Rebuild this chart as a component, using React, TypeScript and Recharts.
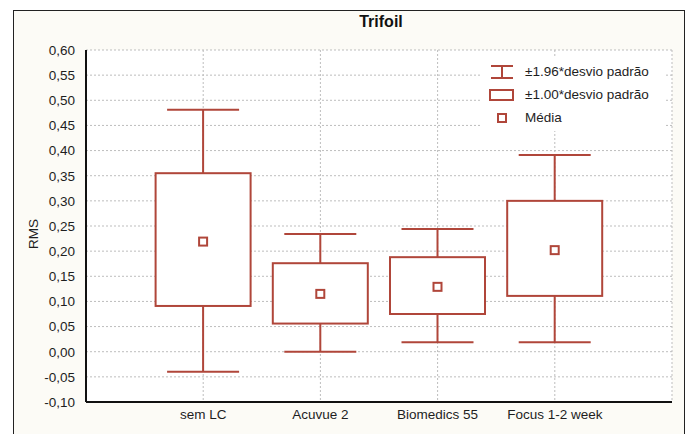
import { Bar, BarChart, CartesianGrid, Legend, XAxis, YAxis } from "recharts";

const lenses = ["sem LC", "Acuvue 2", "Biomedics 55", "Focus 1-2 week"];
const means = [0.219, 0.115, 0.129, 0.202];
const boxLow = [0.091, 0.056, 0.075, 0.111];
const boxHigh = [0.355, 0.176, 0.188, 0.3];
const whiskerLow = [-0.04, 0.0, 0.019, 0.019];
const whiskerHigh = [0.481, 0.234, 0.244, 0.391];
const yTicks = [-0.1, -0.05, 0, 0.05, 0.1, 0.15, 0.2, 0.25, 0.3, 0.35, 0.4, 0.45, 0.5, 0.55, 0.6];
const minorTicks = Array.from({ length: 71 }, (_, i) => Math.round((-0.1 + i * 0.01) * 100) / 100);

const RED = "#b0463a";
const FONT = "'Liberation Sans', Arial, Helvetica, sans-serif";
const TEXT = "#1e1e1e";

const rows = lenses.map((name, i) => ({
  name,
  range: [whiskerLow[i], whiskerHigh[i]],
  lo: whiskerLow[i],
  hi: whiskerHigh[i],
  q1: boxLow[i],
  q3: boxHigh[i],
  mean: means[i],
}));

const fmt = (v: number) => v.toFixed(2).replace(".", ",");

function BoxShape(props: any) {
  const { x, y, width, height, payload } = props;
  const top = Math.min(y, y + height);
  const h = Math.abs(height);
  const ppu = h / (payload.hi - payload.lo);
  const pix = (v: number) => top + (payload.hi - v) * ppu;
  const cx = x + width / 2;
  const cap = 36;
  return (
    <g>
      <line x1={cx} x2={cx} y1={pix(payload.hi)} y2={pix(payload.lo)} stroke={RED} strokeWidth={2} />
      <line x1={cx - cap} x2={cx + cap} y1={pix(payload.hi)} y2={pix(payload.hi)} stroke={RED} strokeWidth={2} />
      <line x1={cx - cap} x2={cx + cap} y1={pix(payload.lo)} y2={pix(payload.lo)} stroke={RED} strokeWidth={2} />
      <rect
        x={x}
        y={pix(payload.q3)}
        width={width}
        height={pix(payload.q1) - pix(payload.q3)}
        fill="#fff"
        stroke={RED}
        strokeWidth={2}
      />
      <rect x={cx - 4} y={pix(payload.mean) - 4} width={8} height={8} fill="#fff" stroke={RED} strokeWidth={2} />
    </g>
  );
}

function BoxLegend() {
  const items = [
    { label: "±1.96*desvio padrão", icon: "whisker" },
    { label: "±1.00*desvio padrão", icon: "box" },
    { label: "Média", icon: "mean" },
  ];
  return (
    <div style={{ background: "#fff", padding: "2px 4px", fontFamily: FONT, fontSize: 13.5, color: TEXT }}>
      {items.map((it) => (
        <div key={it.label} style={{ display: "flex", alignItems: "center", height: 23 }}>
          <svg width={30} height={16} style={{ marginRight: 9 }}>
            {it.icon === "whisker" && (
              <g stroke={RED} strokeWidth={2}>
                <line x1={5} x2={27} y1={2} y2={2} />
                <line x1={5} x2={27} y1={14} y2={14} />
                <line x1={16} x2={16} y1={2} y2={14} />
              </g>
            )}
            {it.icon === "box" && <rect x={4} y={3} width={23} height={10} fill="#fff" stroke={RED} strokeWidth={2} />}
            {it.icon === "mean" && <rect x={12} y={4} width={8} height={8} fill="#fff" stroke={RED} strokeWidth={2} />}
          </svg>
          <span>{it.label}</span>
        </div>
      ))}
    </div>
  );
}

export default function App() {
  return (
    <div style={{ position: "absolute", left: 0, top: 0, width: 687, height: 434, background: "#fff", overflow: "hidden" }}>
      <div
        style={{
          position: "absolute",
          left: 13,
          top: 10,
          width: 670,
          height: 440,
          border: "1.5px solid #222",
          background: "#fcfbf6",
        }}
      />
      <div
        style={{
          position: "absolute",
          left: 86,
          width: 590,
          top: 13,
          textAlign: "center",
          fontFamily: FONT,
          fontWeight: "bold",
          fontSize: 16,
          color: "#111",
        }}
      >
        Trifoil
      </div>
      <div
        style={{
          position: "absolute",
          left: 33,
          top: 234,
          transform: "translate(-50%, -50%) rotate(-90deg)",
          fontFamily: FONT,
          fontSize: 13.5,
          color: TEXT,
        }}
      >
        RMS
      </div>
      <div style={{ position: "absolute", left: 0, top: 0 }}>
        <BarChart
          width={687}
          height={434}
          data={rows}
          margin={{ top: 50, right: 15, bottom: 2, left: 26 }}
          barSize={95}
        >
          <CartesianGrid stroke="#bdbdbd" strokeDasharray="2 2" fill="#fff" />
          <XAxis
            dataKey="name"
            padding={{ left: 58.6, right: 58.6 }}
            height={30}
            tickSize={0}
            tickMargin={7}
            axisLine={{ stroke: "#111", strokeWidth: 2 }}
            tick={{ fontFamily: FONT, fontSize: 13.5, fill: TEXT }}
          />
          <XAxis
            xAxisId="top"
            dataKey="name"
            orientation="top"
            height={0}
            tick={false}
            tickLine={false}
            axisLine={{ stroke: "#111", strokeWidth: 2 }}
          />
          <YAxis
            yAxisId="minor"
            domain={[-0.1, 0.6]}
            ticks={minorTicks}
            width={0}
            mirror
            tick={false}
            tickSize={3}
            tickLine={{ stroke: "#111" }}
            axisLine={false}
          />
          <YAxis
            domain={[-0.1, 0.6]}
            ticks={yTicks}
            width={60}
            tickSize={0}
            tickMargin={11}
            tickFormatter={fmt}
            axisLine={{ stroke: "#111", strokeWidth: 2 }}
            tick={{ fontFamily: FONT, fontSize: 13.5, fill: TEXT }}
          />
          <YAxis
            yAxisId="right"
            orientation="right"
            domain={[-0.1, 0.6]}
            ticks={minorTicks}
            width={0}
            mirror
            tick={false}
            tickSize={3}
            tickLine={{ stroke: "#111" }}
            axisLine={{ stroke: "#111", strokeWidth: 2 }}
          />
          <Legend
            layout="vertical"
            align="center"
            verticalAlign="middle"
            content={() => <BoxLegend />}
            wrapperStyle={{ left: 482, top: 58, width: 184 }}
          />
          <Bar dataKey="range" shape={BoxShape} isAnimationActive={false} />
        </BarChart>
      </div>
    </div>
  );
}
